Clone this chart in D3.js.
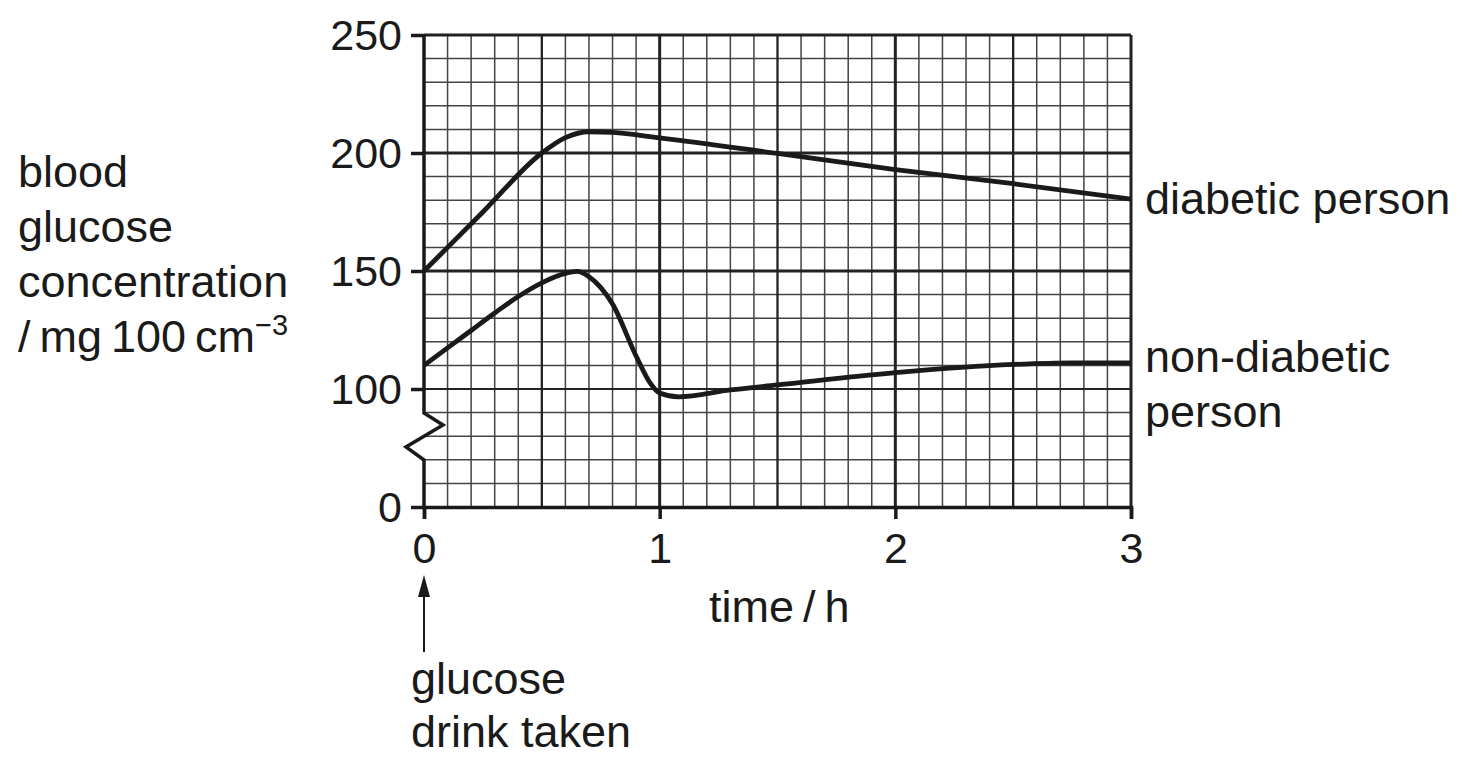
<!DOCTYPE html>
<html>
<head>
<meta charset="utf-8">
<script src="https://cdn.jsdelivr.net/npm/d3@7"></script>
<style>
  body { margin: 0; background: #fff; }
  text { font-family: "Liberation Sans", Arial, Helvetica, sans-serif; fill: #1a1a1a; }
</style>
</head>
<body>
<svg id="chart"></svg>
<script>
// Data
const diabeticTime = [0, 0.25, 0.5, 0.6, 0.7, 0.8, 1, 1.5, 2, 2.5, 3];
const diabeticGlucose = [150, 175, 200, 206.5, 209, 208.7, 206.4, 199.8, 193, 187, 180.5];

const nonDiabeticTime = [0, 0.1, 0.2, 0.3, 0.4, 0.5, 0.6, 0.65, 0.7, 0.8, 0.9, 0.96, 1, 1.08, 1.3, 1.5, 2, 2.5, 2.75, 3];
const nonDiabeticGlucose = [110, 117.4, 124.8, 132.2, 139.2, 145, 149, 149.8, 147.6, 136, 114, 102.5, 98.3, 96.7, 99.6, 101.7, 106.9, 110.4, 111.1, 111.1];

const xTicks = [0, 1, 2, 3];
const yTicks = [0, 100, 150, 200, 250];

// Chart dimensions
const width = 1469;
const height = 765;

const svg = d3.select("#chart")
  .attr("width", width)
  .attr("height", height);

// Scales (y axis is broken below 90: 0..90 squeezed into the bottom cells)
const x = d3.scaleLinear().domain([0, 3]).range([424, 1131]);
const y = d3.scaleLinear().domain([0, 90, 250]).range([507, 412.6, 35]);

// Grid
const grid = svg.append("g");
const cell = (y(0) - y(100)) / 5;
const xMinor = d3.range(1, 30).map(i => i / 10).filter(v => Math.round(v * 10) % 5 !== 0);
const xMajor = [0.5, 1, 1.5, 2, 2.5];
const yMinorPx = d3.range(1, 5).map(i => y(0) - i * cell)
  .concat(d3.range(110, 250, 10).filter(v => v % 50 !== 0).map(v => y(v)));
const yMajor = [100, 150, 200];

grid.selectAll(".xminor").data(xMinor).enter().append("line")
  .attr("x1", d => x(d)).attr("x2", d => x(d))
  .attr("y1", y(250)).attr("y2", y(0))
  .attr("stroke", "#444").attr("stroke-width", 1.5);
grid.selectAll(".yminor").data(yMinorPx).enter().append("line")
  .attr("x1", x(0)).attr("x2", x(3))
  .attr("y1", d => d).attr("y2", d => d)
  .attr("stroke", "#444").attr("stroke-width", 1.5);
grid.selectAll(".xmajor").data(xMajor).enter().append("line")
  .attr("x1", d => x(d)).attr("x2", d => x(d))
  .attr("y1", y(250)).attr("y2", y(0))
  .attr("stroke", "#222").attr("stroke-width", d => d % 1 === 0 ? 3 : 2.3);
grid.selectAll(".ymajor").data(yMajor).enter().append("line")
  .attr("x1", x(0)).attr("x2", x(3))
  .attr("y1", d => y(d)).attr("y2", d => y(d))
  .attr("stroke", "#222").attr("stroke-width", d => d === 100 ? 2 : 3);

// Frame: top and right
svg.append("line")
  .attr("x1", x(0)).attr("x2", x(3)).attr("y1", y(250)).attr("y2", y(250))
  .attr("stroke", "#222").attr("stroke-width", 3);
svg.append("line")
  .attr("x1", x(3)).attr("x2", x(3)).attr("y1", y(250)).attr("y2", y(0))
  .attr("stroke", "#222").attr("stroke-width", 3);

// X axis
const xAxis = d3.axisBottom(x).tickValues(xTicks).tickSize(12).tickFormat(d3.format("d"));
const gx = svg.append("g").attr("transform", `translate(0,${y(0)})`).call(xAxis);
gx.select(".domain").attr("stroke", "#1a1a1a").attr("stroke-width", 3.5);
gx.selectAll(".tick line").attr("stroke", "#1a1a1a").attr("stroke-width", 3.5);
gx.selectAll(".tick text").attr("font-size", 43).attr("dy", 0).attr("y", 56)
  .style("font-family", "'Liberation Sans', Arial, sans-serif").attr("fill", "#1a1a1a");

// Y axis (domain drawn by hand for the break)
const yAxis = d3.axisLeft(y).tickValues(yTicks).tickSize(13).tickPadding(9).tickFormat(d3.format("d"));
const gy = svg.append("g").attr("transform", `translate(${x(0)},0)`).call(yAxis);
gy.select(".domain").remove();
gy.selectAll(".tick line").attr("stroke", "#1a1a1a").attr("stroke-width", 3.5);
gy.selectAll(".tick text").attr("font-size", 43).attr("dy", 14)
  .style("font-family", "'Liberation Sans', Arial, sans-serif").attr("fill", "#1a1a1a");

const x0 = x(0);
svg.append("path")
  .attr("d", `M${x0},${y(250)}V413L${x0 + 19},425L${x0 - 18},447L${x0},460V${y(0)}`)
  .attr("fill", "none").attr("stroke", "#1a1a1a").attr("stroke-width", 3.5)
  .attr("stroke-linejoin", "miter");

// Curves
const line = d3.line()
  .x(d => x(d[0]))
  .y(d => y(d[1]))
  .curve(d3.curveMonotoneX);

svg.append("path")
  .datum(d3.zip(diabeticTime, diabeticGlucose))
  .attr("d", line)
  .attr("fill", "none").attr("stroke", "#1a1a1a").attr("stroke-width", 4.8)
  .attr("stroke-linejoin", "round");
svg.append("path")
  .datum(d3.zip(nonDiabeticTime, nonDiabeticGlucose))
  .attr("d", line)
  .attr("fill", "none").attr("stroke", "#1a1a1a").attr("stroke-width", 4.8)
  .attr("stroke-linejoin", "round");

// Y axis title
const fs = 45;
const yTitle = svg.append("text").attr("font-size", fs);
["blood", "glucose", "concentration"].forEach((t, i) => {
  yTitle.append("tspan").attr("x", 18).attr("y", 187 + i * 55).text(t);
});
const unit = svg.append("text").attr("font-size", fs).attr("x", 18).attr("y", 352);
unit.append("tspan").text("/\u2009mg\u2009100\u2009cm");
unit.append("tspan").attr("font-size", 29).attr("dy", -17).text("\u22123");

// Series labels
svg.append("text").attr("font-size", fs).attr("x", 1145).attr("y", 214).text("diabetic person");
const nd = svg.append("text").attr("font-size", fs);
nd.append("tspan").attr("x", 1145).attr("y", 372).text("non-diabetic");
nd.append("tspan").attr("x", 1145).attr("y", 427).text("person");

// X axis title
svg.append("text").attr("font-size", fs).attr("x", 709).attr("y", 622).text("time\u2009/\u2009h");

// Arrow and annotation
svg.append("line")
  .attr("x1", x0).attr("x2", x0).attr("y1", 652).attr("y2", 592)
  .attr("stroke", "#1a1a1a").attr("stroke-width", 2);
svg.append("path")
  .attr("d", `M${x0},575L${x0 + 6},597L${x0 - 6},597Z`)
  .attr("fill", "#1a1a1a");
const note = svg.append("text").attr("font-size", fs);
note.append("tspan").attr("x", 411).attr("y", 694).text("glucose");
note.append("tspan").attr("x", 411).attr("y", 747).text("drink taken");
</script>
</body>
</html>
